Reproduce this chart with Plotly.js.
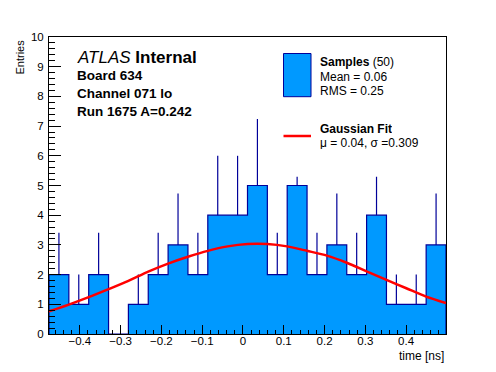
<!DOCTYPE html>
<html><head><meta charset="utf-8">
<script src="https://cdn.plot.ly/plotly-3.0.1.min.js"></script>
<style>html,body{margin:0;padding:0;background:#fff;}#chart{width:496px;height:372px;}</style>
</head><body><div id="chart"></div>
<script>
// Histogram binning (time [ns])
const binLow = -0.4756;
const binWidth = 0.04867;
const counts = [2, 1, 2, 0, 1, 2, 3, 2, 4, 4, 5, 2, 5, 2, 3, 2, 4, 1, 1, 3];
const errUp  = [1.41, 1, 1.41, 0, 1, 1.41, 1.73, 1.41, 2, 2, 2.24, 1.41, 2.24, 1.41, 1.73, 1.41, 2, 1, 1, 1.73];
// Gaussian fit curve, read at the bin edges
const fitY = [0.76, 0.99, 1.24, 1.51, 1.79, 2.10, 2.37, 2.60, 2.80, 2.95, 3.03, 3.03, 2.95, 2.80, 2.64, 2.40, 2.11, 1.82, 1.54, 1.26, 1.04];
const labelLines = ["Board 634", "Channel 071 lo", "Run 1675 A=0.242"];
const legendSamples = ["Samples", "(50)", "Mean = 0.06", "RMS = 0.25"];
const legendFit = ["Gaussian Fit", "\u03bc = 0.04, \u03c3 =0.309"];

const FONT = "Liberation Sans, Arial, Helvetica, sans-serif";
const FILL = "#0099ff";
const EDGE = "#000099";

const nb = counts.length;
const edges = [];
for (let i = 0; i <= nb; i++) edges.push(binLow + i * binWidth);
const centers = counts.map((_, i) => edges[i] + binWidth / 2);

const stepX = [edges[0]], stepY = [0];
for (let i = 0; i < nb; i++) { stepX.push(edges[i]); stepY.push(counts[i]); }
stepX.push(edges[nb]); stepY.push(counts[nb - 1]);
stepX.push(edges[nb]); stepY.push(0);

const traces = [
  {x: stepX, y: stepY, type: "scatter", mode: "lines", line: {shape: "hv", color: EDGE, width: 1.2},
   fill: "tozeroy", fillcolor: FILL, hoverinfo: "skip", showlegend: false},
  {x: centers, y: counts, type: "scatter", mode: "markers", marker: {size: 1, color: "rgba(0,0,0,0)"},
   error_y: {type: "data", symmetric: false, array: errUp, arrayminus: counts.map(() => 0), width: 0, color: EDGE, thickness: 1.2},
   hoverinfo: "skip", showlegend: false},
  {x: edges, y: fitY, type: "scatter", mode: "lines", line: {color: "#ff0000", width: 2.5, shape: "spline", smoothing: 0.8},
   hoverinfo: "skip", showlegend: false}
];

// pixel -> paper helpers (plot area 49..446 x 37..334)
const PX = x => (x - 49) / 397;
const PY = y => (334 - y) / 297;

const ann = [];
ann.push({text: "<i>ATLAS</i> <b>Internal</b>", x: PX(75), y: PY(57), xref: "paper", yref: "paper", xanchor: "left", yanchor: "middle", showarrow: false, font: {family: FONT, size: 17, color: "#000"}});
const ly = [75, 93.5, 112];
labelLines.forEach((t, i) => ann.push({text: "<b>" + t + "</b>", x: PX(75), y: PY(ly[i]), xref: "paper", yref: "paper", xanchor: "left", yanchor: "middle", showarrow: false, font: {family: FONT, size: 13.5, color: "#000"}}));
ann.push({text: "<b>" + legendSamples[0] + "</b> " + legendSamples[1], x: PX(317.5), y: PY(62), xref: "paper", yref: "paper", xanchor: "left", yanchor: "middle", showarrow: false, font: {family: FONT, size: 12, color: "#000"}});
ann.push({text: legendSamples[2], x: PX(317.5), y: PY(77), xref: "paper", yref: "paper", xanchor: "left", yanchor: "middle", showarrow: false, font: {family: FONT, size: 12, color: "#000"}});
ann.push({text: legendSamples[3], x: PX(317.5), y: PY(90.5), xref: "paper", yref: "paper", xanchor: "left", yanchor: "middle", showarrow: false, font: {family: FONT, size: 12, color: "#000"}});
ann.push({text: "<b>" + legendFit[0] + "</b>", x: PX(317.5), y: PY(129), xref: "paper", yref: "paper", xanchor: "left", yanchor: "middle", showarrow: false, font: {family: FONT, size: 12, color: "#000"}, height: 12});
ann.push({text: legendFit[1], x: PX(317.5), y: PY(142.5), xref: "paper", yref: "paper", xanchor: "left", yanchor: "middle", showarrow: false, font: {family: FONT, size: 12, color: "#000"}, height: 12});
ann.push({text: "time [ns]", x: 1, y: PY(356), xref: "paper", yref: "paper", xanchor: "right", yanchor: "middle", showarrow: false, font: {family: FONT, size: 12, color: "#000"}});
ann.push({text: "Entries", textangle: -90, x: PX(19), y: 1, xref: "paper", yref: "paper", xanchor: "center", yanchor: "top", showarrow: false, font: {family: FONT, size: 11, color: "#000"}});

const shapes = [
  {type: "rect", xref: "paper", yref: "paper", x0: PX(272), x1: PX(445), y0: PY(176.7), y1: PY(40), fillcolor: "#ffffff", line: {width: 0}, layer: "above"},
  {type: "rect", xref: "paper", yref: "paper", x0: PX(283.5), x1: PX(311), y0: PY(96.7), y1: PY(53.5), fillcolor: FILL, line: {color: EDGE, width: 1}, layer: "above"},
  {type: "line", xref: "paper", yref: "paper", x0: PX(283.5), x1: PX(311), y0: PY(136), y1: PY(136), line: {color: "#ff0000", width: 2.5}, layer: "above"}
];

const layout = {
  width: 496, height: 372,
  margin: {l: 49, r: 50, t: 37, b: 38, pad: 0},
  paper_bgcolor: "#fff", plot_bgcolor: "#fff",
  font: {family: FONT, size: 11.5, color: "#000"},
  xaxis: {range: [edges[0], edges[nb]], tick0: 0, dtick: 0.1, ticks: "inside", ticklen: 9, tickcolor: "#000", tickwidth: 1,
          minor: {dtick: 0.02, ticks: "inside", ticklen: 4.5, tickcolor: "#000", tickwidth: 1, showgrid: false},
          showline: true, linecolor: "#000", linewidth: 1, mirror: true, showgrid: false, zeroline: false,
          tickfont: {family: FONT, size: 11.5, color: "#000"}, ticklabelstandoff: -4},
  yaxis: {range: [0, 10], tick0: 0, dtick: 1, ticks: "inside", ticklen: 12, tickcolor: "#000", tickwidth: 1,
          minor: {dtick: 0.2, ticks: "inside", ticklen: 6, tickcolor: "#000", tickwidth: 1, showgrid: false},
          showline: true, linecolor: "#000", linewidth: 1, mirror: true, showgrid: false, zeroline: false,
          tickfont: {family: FONT, size: 11.5, color: "#000"}, ticklabelstandoff: 2},
  annotations: ann,
  shapes: shapes,
  showlegend: false
};

Plotly.newPlot("chart", traces, layout, {displayModeBar: false, staticPlot: true});
</script>
</body></html>
